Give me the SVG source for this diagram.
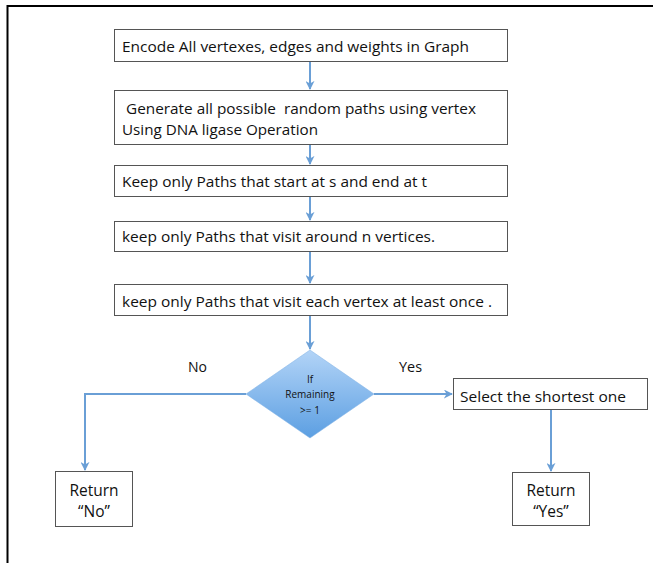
<svg xmlns="http://www.w3.org/2000/svg" width="653" height="563" viewBox="0 0 653 563">
<style>
.box{fill:#fff;stroke:#555;stroke-width:1}
.t{font-family:"Open Sans","Liberation Sans",sans-serif;font-size:15px;fill:#111}
.c{text-anchor:middle;font-size:15.5px}
.s{font-family:"Open Sans","Liberation Sans",sans-serif;font-size:10px;fill:#111;text-anchor:middle}
.ln{fill:none;stroke:#6a9fd6;stroke-width:2}
</style>
<defs>
<marker id="ah2" viewBox="0 0 10 10" refX="9" refY="5" markerWidth="9" markerHeight="9" orient="auto" markerUnits="userSpaceOnUse">
<path d="M0,0 L10,5 L0,10 L3,5 Z" fill="#6a9fd6"/>
</marker>
<linearGradient id="dg" x1="0" y1="0" x2="0" y2="1">
<stop offset="0" stop-color="#b3d4f7"/>
<stop offset="1" stop-color="#5c9fe2"/>
</linearGradient>
</defs>
<path d="M7.5,563 L7.5,6 L653,6" fill="none" stroke="#000" stroke-width="2"/>
<g id="connectors">
<line class="ln" x1="310" y1="61" x2="310" y2="89" marker-end="url(#ah2)"/>
<line class="ln" x1="310" y1="144" x2="310" y2="164" marker-end="url(#ah2)"/>
<line class="ln" x1="310" y1="196" x2="310" y2="220" marker-end="url(#ah2)"/>
<line class="ln" x1="310" y1="251" x2="310" y2="283" marker-end="url(#ah2)"/>
<line class="ln" x1="310" y1="315" x2="310" y2="349" marker-end="url(#ah2)"/>
<polyline class="ln" points="246,394 85,394 85,470" marker-end="url(#ah2)"/>
<line class="ln" x1="374" y1="394" x2="452" y2="394" marker-end="url(#ah2)"/>
<line class="ln" x1="551" y1="409" x2="551" y2="471" marker-end="url(#ah2)"/>
<text class="t" x="188" y="372" textLength="19" lengthAdjust="spacingAndGlyphs">No</text>
<text class="t" x="399" y="372" textLength="23" lengthAdjust="spacingAndGlyphs">Yes</text>
</g>
<g id="n1">
<rect class="box" x="114.5" y="29.5" width="393" height="32"/>
<text class="t" x="122" y="52" textLength="347" lengthAdjust="spacingAndGlyphs">Encode All vertexes, edges and weights in Graph</text>
</g>
<g id="n2">
<rect class="box" x="114.5" y="90.5" width="393" height="54"/>
<text class="t" x="126" y="114" textLength="350" lengthAdjust="spacingAndGlyphs" style="white-space:pre">Generate all possible  random paths using vertex</text>
<text class="t" x="122" y="135" textLength="196" lengthAdjust="spacingAndGlyphs">Using DNA ligase Operation</text>
</g>
<g id="n3">
<rect class="box" x="114.5" y="165.5" width="393" height="31"/>
<text class="t" x="122" y="187" textLength="305" lengthAdjust="spacingAndGlyphs">Keep only Paths that start at s and end at t</text>
</g>
<g id="n4">
<rect class="box" x="114.5" y="221.5" width="393" height="30"/>
<text class="t" x="122" y="242" textLength="313" lengthAdjust="spacingAndGlyphs">keep only Paths that visit around n vertices.</text>
</g>
<g id="n5">
<rect class="box" x="114.5" y="284.5" width="393" height="31"/>
<text class="t" x="122" y="307" textLength="370" lengthAdjust="spacingAndGlyphs">keep only Paths that visit each vertex at least once .</text>
</g>
<g id="decision">
<polygon points="310,350 374,394 310,438 246,394" fill="url(#dg)" stroke="#7fb0e4" stroke-width="0.5"/>
<text class="s" x="310" y="383">If</text>
<text class="s" x="310" y="398">Remaining</text>
<text class="s" x="310" y="414">&gt;= 1</text>
</g>
<g id="select">
<rect class="box" x="453.5" y="378.5" width="194" height="31"/>
<text class="t" x="460" y="402" textLength="166" lengthAdjust="spacingAndGlyphs">Select the shortest one</text>
</g>
<g id="retYes">
<rect class="box" x="512.5" y="472.5" width="77" height="53"/>
<text class="t c" x="551" y="496">Return</text>
<text class="t c" x="551" y="517">“Yes”</text>
</g>
<g id="retNo">
<rect class="box" x="55.5" y="471.5" width="77" height="55"/>
<text class="t c" x="94" y="496">Return</text>
<text class="t c" x="94" y="517">“No”</text>
</g>
</svg>
